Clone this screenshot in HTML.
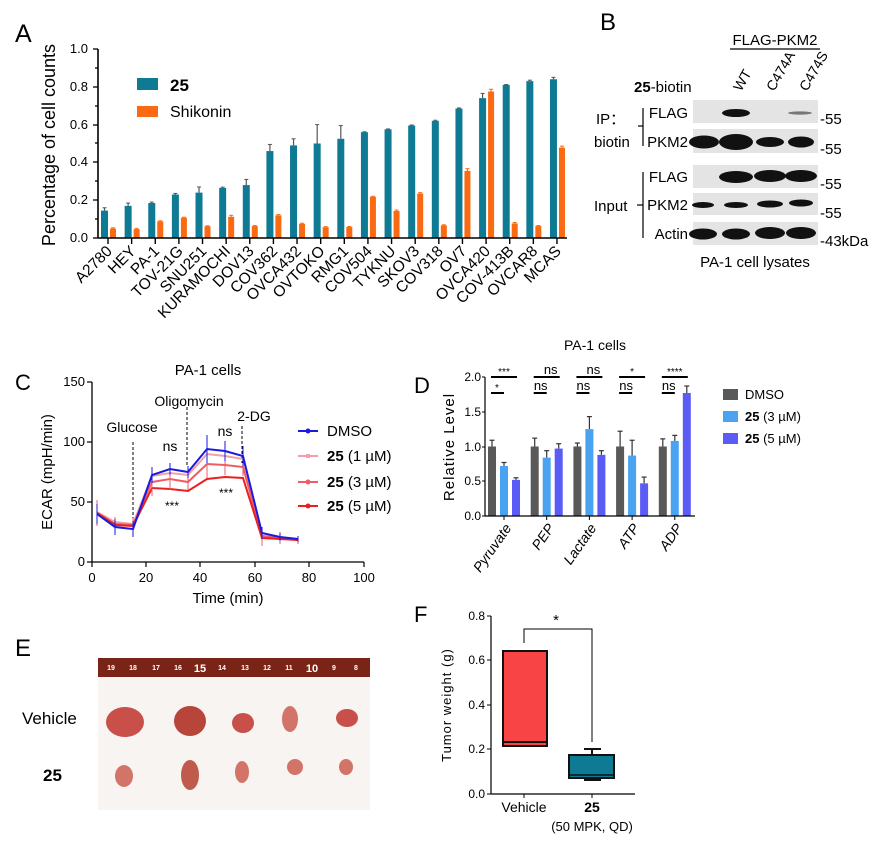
<!DOCTYPE html>
<html><head><meta charset="utf-8"><style>
body{margin:0;background:#fff}
svg{display:block;font-family:"Liberation Sans",sans-serif}
</style></head><body>
<svg width="871" height="841" viewBox="0 0 871 841" xmlns="http://www.w3.org/2000/svg">
<!-- Panel A -->
<text x="15" y="42" font-size="25">A</text>
<g id="A"></g>
<line x1="98" y1="49" x2="98" y2="238" stroke="#000" stroke-width="1.6"/>
<line x1="98" y1="238" x2="567" y2="238" stroke="#000" stroke-width="1.6"/>
<g font-size="13" text-anchor="end">
<text x="88" y="242">0.0</text><text x="88" y="204">0.2</text><text x="88" y="166">0.4</text><text x="88" y="129">0.6</text><text x="88" y="91">0.8</text><text x="88" y="53">1.0</text>
</g>
<g stroke="#000" stroke-width="1.3">
<line x1="93" y1="238" x2="98" y2="238"/><line x1="93" y1="200" x2="98" y2="200"/><line x1="93" y1="162" x2="98" y2="162"/><line x1="93" y1="125" x2="98" y2="125"/><line x1="93" y1="87" x2="98" y2="87"/><line x1="93" y1="49" x2="98" y2="49"/>
<line x1="95" y1="219" x2="98" y2="219"/><line x1="95" y1="181" x2="98" y2="181"/><line x1="95" y1="143" x2="98" y2="143"/><line x1="95" y1="106" x2="98" y2="106"/><line x1="95" y1="68" x2="98" y2="68"/>
</g>
<text transform="translate(55,145) rotate(-90)" font-size="18" text-anchor="middle">Percentage of cell counts</text>
<rect x="137" y="78" width="21" height="12" fill="#0f7a93"/>
<text x="170" y="91" font-size="17" font-weight="bold">25</text>
<rect x="137" y="106" width="21" height="11" fill="#fa6a12"/>
<text x="170" y="117" font-size="16">Shikonin</text>

<!-- Panel B -->
<text x="600" y="30" font-size="24">B</text>
<text x="775" y="45" font-size="15" text-anchor="middle">FLAG-PKM2</text>
<line x1="730" y1="49" x2="820" y2="49" stroke="#000" stroke-width="1.2"/>
<text x="634" y="92" font-size="15"><tspan font-weight="bold">25</tspan>-biotin</text>
<g font-size="14" text-anchor="start">
<text transform="translate(741,92) rotate(-60)">WT</text>
<text transform="translate(774,92) rotate(-60)">C474A</text>
<text transform="translate(807,92) rotate(-60)">C474S</text>
</g>
<g fill="#e4e4e4">
<rect x="693" y="100" width="125" height="23"/>
<rect x="693" y="129" width="125" height="24"/>
<rect x="693" y="165" width="125" height="23"/>
<rect x="693" y="193" width="125" height="22"/>
<rect x="693" y="222" width="125" height="23"/>
</g>
<g fill="#111">
<ellipse cx="736" cy="113" rx="14" ry="4"/>
<ellipse cx="800" cy="113" rx="12" ry="1.6" fill="#777"/>
<ellipse cx="704" cy="142" rx="15" ry="6.5"/><ellipse cx="736" cy="142" rx="17" ry="8"/><ellipse cx="770" cy="142" rx="14" ry="5"/><ellipse cx="801" cy="142" rx="13" ry="5.5"/>
<ellipse cx="736" cy="177" rx="17" ry="6"/><ellipse cx="770" cy="176" rx="16" ry="6"/><ellipse cx="801" cy="176" rx="16" ry="6"/>
<ellipse cx="703" cy="205" rx="11" ry="3"/><ellipse cx="736" cy="205" rx="12" ry="3"/><ellipse cx="770" cy="204" rx="13" ry="3.5"/><ellipse cx="801" cy="203" rx="12" ry="3.5"/>
<ellipse cx="703" cy="234" rx="14" ry="5.5"/><ellipse cx="736" cy="234" rx="14" ry="5.5"/><ellipse cx="770" cy="233" rx="15" ry="6"/><ellipse cx="801" cy="233" rx="15" ry="6"/>
</g>
<g font-size="15" text-anchor="end">
<text x="688" y="118">FLAG</text><text x="688" y="147">PKM2</text><text x="688" y="182">FLAG</text><text x="688" y="210">PKM2</text><text x="688" y="239">Actin</text>
</g>
<g font-size="15">
<text x="820" y="124">-55</text><text x="820" y="154">-55</text><text x="820" y="189">-55</text><text x="820" y="218">-55</text><text x="820" y="246">-43kDa</text>
</g>
<text x="596" y="124" font-size="15">IP：</text>
<text x="594" y="147" font-size="15">biotin</text>
<text x="594" y="211" font-size="15">Input</text>
<g stroke="#000" stroke-width="1.2" fill="none">
<path d="M643 108 V146"/><path d="M638 126 H643"/>
<path d="M643 172 V238"/><path d="M637 205 H643"/>
</g>
<text x="755" y="267" font-size="15" text-anchor="middle">PA-1 cell lysates</text>

<!-- Panel C -->
<text x="15" y="390" font-size="22">C</text>
<text x="208" y="375" font-size="15" text-anchor="middle">PA-1 cells</text>
<line x1="92" y1="382" x2="92" y2="562" stroke="#000" stroke-width="1.3"/>
<line x1="92" y1="562" x2="364" y2="562" stroke="#000" stroke-width="1.3"/>
<g stroke="#000" stroke-width="1.2">
<line x1="87" y1="562" x2="92" y2="562"/><line x1="87" y1="502" x2="92" y2="502"/><line x1="87" y1="442" x2="92" y2="442"/><line x1="87" y1="382" x2="92" y2="382"/>
<line x1="92" y1="562" x2="92" y2="567"/><line x1="146" y1="562" x2="146" y2="567"/><line x1="200" y1="562" x2="200" y2="567"/><line x1="255" y1="562" x2="255" y2="567"/><line x1="309" y1="562" x2="309" y2="567"/><line x1="364" y1="562" x2="364" y2="567"/>
</g>
<g font-size="13" text-anchor="end">
<text x="85" y="566">0</text><text x="85" y="506">50</text><text x="85" y="446">100</text><text x="85" y="386">150</text>
</g>
<g font-size="13" text-anchor="middle">
<text x="92" y="582">0</text><text x="146" y="582">20</text><text x="200" y="582">40</text><text x="255" y="582">60</text><text x="309" y="582">80</text><text x="364" y="582">100</text>
</g>
<text x="228" y="603" font-size="15" text-anchor="middle">Time (min)</text>
<text transform="translate(52,472) rotate(-90)" font-size="15" text-anchor="middle">ECAR (mpH/min)</text>
<g stroke="#000" stroke-width="1" stroke-dasharray="3,2">
<line x1="133" y1="442" x2="133" y2="523"/><line x1="187" y1="407" x2="187" y2="467"/><line x1="242" y1="426" x2="242" y2="463"/>
</g>
<g font-size="14" text-anchor="middle">
<text x="132" y="432">Glucose</text><text x="189" y="406">Oligomycin</text><text x="254" y="421">2-DG</text>
<text x="170" y="451">ns</text><text x="225" y="436">ns</text>
<text x="172" y="510" font-size="12">***</text><text x="226" y="497" font-size="12">***</text>
</g>
<g fill="none" stroke-width="2">
<polyline stroke="#f2a0a8" points="97,512 115,522 133,524 152,476 170,473 188,475 207,454 225,456 243,459 262,536 280,538 298,540"/>
<polyline stroke="#ee5c64" points="97,513 115,524 133,525 152,482 170,479 188,482 207,464 225,465 243,467 262,536 280,538 298,540"/>
<polyline stroke="#e8201e" points="97,513 115,525 133,526 152,488 170,489 188,491 207,479 225,477 243,478 262,538 280,539 298,540"/>
<polyline stroke="#1a1ae0" points="97,514 115,527 133,529 152,475 170,469 188,472 207,449 225,451 243,456 262,533 280,537 298,539"/>
</g>
<g stroke-width="1" fill="none">
<path stroke="#ee5c64" d="M97 500V526 M115 517V530 M133 518V532 M152 468V496 M170 470V490 M188 472V490 M207 452V478 M225 455V475 M243 458V476 M262 528V546 M280 532V544 M298 536V544"/>
<path stroke="#1a1ae0" d="M97 504V524 M115 519V535 M133 521V537 M152 467V483 M170 463V475 M188 466V478 M207 435V463 M225 441V461 M243 446V466 M262 527V539 M280 533V541 M298 536V542"/>
</g>
<g>
<line x1="298" y1="431" x2="318" y2="431" stroke="#1a1ae0" stroke-width="2"/><circle cx="308" cy="431" r="2.5" fill="#1a1ae0"/>
<line x1="298" y1="456" x2="318" y2="456" stroke="#f2a0a8" stroke-width="2"/><rect x="306" y="454" width="4" height="4" fill="#f2a0a8"/>
<line x1="298" y1="482" x2="318" y2="482" stroke="#ee5c64" stroke-width="2"/><circle cx="308" cy="482" r="2.5" fill="#ee5c64"/>
<line x1="298" y1="506" x2="318" y2="506" stroke="#e8201e" stroke-width="2"/><circle cx="308" cy="506" r="2.5" fill="#e8201e"/>
</g>
<g font-size="15">
<text x="327" y="436">DMSO</text>
<text x="327" y="461"><tspan font-weight="bold">25</tspan> (1 µM)</text>
<text x="327" y="487"><tspan font-weight="bold">25</tspan> (3 µM)</text>
<text x="327" y="511"><tspan font-weight="bold">25</tspan> (5 µM)</text>
</g>

<!-- Panel D -->
<text x="414" y="393" font-size="22">D</text>
<text x="595" y="350" font-size="14" text-anchor="middle">PA-1 cells</text>
<g id="D"></g>
<line x1="485" y1="377" x2="485" y2="516" stroke="#000" stroke-width="1.2"/>
<line x1="485" y1="516" x2="695" y2="516" stroke="#000" stroke-width="1.2"/>
<g font-size="12" text-anchor="end">
<text x="481" y="520">0.0</text><text x="481" y="485">0.5</text><text x="481" y="451">1.0</text><text x="481" y="416">1.5</text><text x="481" y="381">2.0</text>
</g>
<g stroke="#000" stroke-width="1"><line x1="482" y1="516" x2="485" y2="516"/><line x1="482" y1="481" x2="485" y2="481"/><line x1="482" y1="447" x2="485" y2="447"/><line x1="482" y1="412" x2="485" y2="412"/><line x1="482" y1="377" x2="485" y2="377"/></g>
<text transform="translate(454,447) rotate(-90)" font-size="15" text-anchor="middle" letter-spacing="1">Relative Level</text>
<g font-size="14" font-style="italic" text-anchor="end">
<text transform="translate(512,528) rotate(-55)">Pyruvate</text>
<text transform="translate(555,528) rotate(-55)">PEP</text>
<text transform="translate(597,528) rotate(-55)">Lactate</text>
<text transform="translate(640,528) rotate(-55)">ATP</text>
<text transform="translate(683,528) rotate(-55)">ADP</text>
</g>
<rect x="723" y="389" width="15" height="11" fill="#595959"/>
<rect x="723" y="411" width="15" height="11" fill="#4aa3f0"/>
<rect x="723" y="433" width="15" height="11" fill="#5b5bf5"/>
<g font-size="13">
<text x="745" y="399">DMSO</text>
<text x="745" y="421"><tspan font-weight="bold">25</tspan> (3 µM)</text>
<text x="745" y="443"><tspan font-weight="bold">25</tspan> (5 µM)</text>
</g>

<!-- Panel E -->
<text x="15" y="656" font-size="24">E</text>
<rect x="98" y="658" width="272" height="152" fill="#f7f4f1"/>
<rect x="98" y="658" width="272" height="19" fill="#7a2418"/>
<g fill="#fff" font-size="7" font-weight="bold" text-anchor="middle">
<text x="111" y="670">19</text><text x="133" y="670">18</text><text x="156" y="670">17</text><text x="178" y="670">16</text><text x="200" y="672" font-size="11">15</text><text x="222" y="670">14</text><text x="245" y="670">13</text><text x="267" y="670">12</text><text x="289" y="670">11</text><text x="312" y="672" font-size="11">10</text><text x="334" y="670">9</text><text x="356" y="670">8</text>
</g>
<g fill="#c9504a">
<ellipse cx="125" cy="722" rx="19" ry="15"/><ellipse cx="190" cy="721" rx="16" ry="15" fill="#b8453a"/><ellipse cx="243" cy="723" rx="11" ry="10"/><ellipse cx="290" cy="719" rx="8" ry="13" fill="#d27468"/><ellipse cx="347" cy="718" rx="11" ry="9"/>
<ellipse cx="124" cy="776" rx="9" ry="11" fill="#d27468"/><ellipse cx="190" cy="775" rx="9" ry="15" fill="#c05a4c"/><ellipse cx="242" cy="772" rx="7" ry="11" fill="#d27468"/><ellipse cx="295" cy="767" rx="8" ry="8" fill="#d27468"/><ellipse cx="346" cy="767" rx="7" ry="8" fill="#d27468"/>
</g>
<text x="22" y="724" font-size="17">Vehicle</text>
<text x="43" y="781" font-size="17" font-weight="bold">25</text>

<!-- Panel F -->
<text x="414" y="622" font-size="22">F</text>
<line x1="491" y1="616" x2="491" y2="794" stroke="#000" stroke-width="1.2"/>
<line x1="491" y1="794" x2="635" y2="794" stroke="#000" stroke-width="1.2"/>
<g stroke="#000" stroke-width="1"><line x1="487" y1="794" x2="491" y2="794"/><line x1="487" y1="749" x2="491" y2="749"/><line x1="487" y1="705" x2="491" y2="705"/><line x1="487" y1="660" x2="491" y2="660"/><line x1="487" y1="616" x2="491" y2="616"/><line x1="524" y1="794" x2="524" y2="798"/><line x1="592" y1="794" x2="592" y2="798"/></g>
<g font-size="12" text-anchor="end">
<text x="485" y="798">0.0</text><text x="485" y="753">0.2</text><text x="485" y="709">0.4</text><text x="485" y="664">0.6</text><text x="485" y="620">0.8</text>
</g>
<text transform="translate(451,705) rotate(-90)" font-size="13" text-anchor="middle" letter-spacing="1">Tumor weight (g)</text>
<rect x="503" y="651" width="44" height="95" fill="#f84444" stroke="#111" stroke-width="2"/>
<line x1="503" y1="742" x2="547" y2="742" stroke="#111" stroke-width="2"/>
<rect x="569" y="755" width="45" height="23" fill="#0f7a93" stroke="#111" stroke-width="2"/>
<line x1="569" y1="775" x2="614" y2="775" stroke="#111" stroke-width="1.5"/>
<path d="M592 755V749M584 749H601M592 778V780M584 780H601" stroke="#111" stroke-width="2"/>
<path d="M524 643V629H592V742" fill="none" stroke="#000" stroke-width="1"/>
<text x="556" y="625" font-size="15" text-anchor="middle">*</text>
<text x="524" y="812" font-size="14" text-anchor="middle">Vehicle</text>
<text x="592" y="812" font-size="14" font-weight="bold" text-anchor="middle">25</text>
<text x="592" y="831" font-size="13" text-anchor="middle">(50 MPK, QD)</text>
</svg>
<script>
(function(){
var NS="http://www.w3.org/2000/svg";
function el(p,t,a,txt){var e=document.createElementNS(NS,t);for(var k in a)e.setAttribute(k,a[k]);if(txt)e.textContent=txt;p.appendChild(e);return e;}
var g=document.getElementById("A");
var names=["A2780","HEY","PA-1","TOV-21G","SNU251","KURAMOCHI","DOV13","COV362","OVCA432","OVTOKO","RMG1","COV504","TYKNU","SKOV3","COV318","OV7","OVCA420","COV-413B","OVCAR8","MCAS"];
var t=[.145,.17,.185,.23,.24,.265,.28,.46,.49,.50,.525,.56,.575,.595,.62,.685,.74,.81,.83,.84];
var te=[.015,.015,.005,.006,.03,.004,.03,.035,.035,.1,.07,.002,.002,.003,.003,.003,.025,.002,.005,.01];
var o=[.05,.047,.088,.107,.062,.112,.063,.12,.075,.057,.058,.218,.143,.235,.067,.355,.775,.077,.063,.478];
var oe=[.004,.004,.003,.003,.003,.008,.003,.004,.003,.003,.003,.003,.005,.005,.003,.012,.012,.005,.003,.008];
var y0=238,s=189;
for(var i=0;i<20;i++){var x=108+i*23.63;
el(g,"line",{x1:x-3.5,x2:x-3.5,y1:y0-(t[i]+te[i])*s,y2:y0-t[i]*s,stroke:"#555","stroke-width":1.2});
el(g,"line",{x1:x-5.5,x2:x-1.5,y1:y0-(t[i]+te[i])*s,y2:y0-(t[i]+te[i])*s,stroke:"#555","stroke-width":1});
el(g,"rect",{x:x-7,y:y0-t[i]*s,width:7,height:t[i]*s,fill:"#0f7a93"});
el(g,"line",{x1:x+5,x2:x+5,y1:y0-(o[i]+oe[i])*s,y2:y0-o[i]*s,stroke:"#fa6a12","stroke-width":1.2});
el(g,"line",{x1:x+3,x2:x+7,y1:y0-(o[i]+oe[i])*s,y2:y0-(o[i]+oe[i])*s,stroke:"#fa6a12","stroke-width":1});
el(g,"rect",{x:x+2,y:y0-o[i]*s,width:6,height:o[i]*s,fill:"#fa6a12"});
el(g,"line",{x1:x,x2:x,y1:238,y2:244,stroke:"#000","stroke-width":1.4});
el(g,"text",{transform:"translate("+(x+5)+",252) rotate(-45)","font-size":"15.5","text-anchor":"end"},names[i]);
}
var d=document.getElementById("D");
var v=[[1,.72,.52],[1,.84,.97],[1,1.25,.88],[1,.87,.47],[1,1.08,1.77]];
var ve=[[.09,.05,.03],[.12,.1,.07],[.05,.18,.06],[.22,.22,.09],[.11,.08,.1]];
var cols=["#595959","#4aa3f0","#5b5bf5"];
var r1=["***","ns","ns","*","****"],r2=["*","ns","ns","ns","ns"];
for(var j=0;j<5;j++){var gx=488+j*42.7;
for(var k=0;k<3;k++){var bx=gx+k*12,h=v[j][k]*69.5,e=ve[j][k]*69.5;
el(d,"line",{x1:bx+4,x2:bx+4,y1:516-h-e,y2:516-h,stroke:"#333","stroke-width":1.2});
el(d,"line",{x1:bx+1.5,x2:bx+6.5,y1:516-h-e,y2:516-h-e,stroke:"#333","stroke-width":1.2});
el(d,"rect",{x:bx,y:516-h,width:8,height:h,fill:cols[k]});}
el(d,"line",{x1:gx+16,x2:gx+16,y1:516,y2:520,stroke:"#000"});
el(d,"line",{x1:gx+3,x2:gx+29,y1:377,y2:377,stroke:"#000","stroke-width":2});
el(d,"line",{x1:gx+3,x2:gx+16,y1:393,y2:393,stroke:"#000","stroke-width":2});
var big1=r1[j]=="ns";
el(d,"text",{x:gx+(big1?20:16),y:big1?374:375,"font-size":big1?13:10,"text-anchor":"middle"},r1[j]);
var big2=r2[j]=="ns";
el(d,"text",{x:gx+(big2?10:9),y:big2?390:391,"font-size":big2?13:10,"text-anchor":"middle"},r2[j]);
}
})();
</script>
</body></html>
